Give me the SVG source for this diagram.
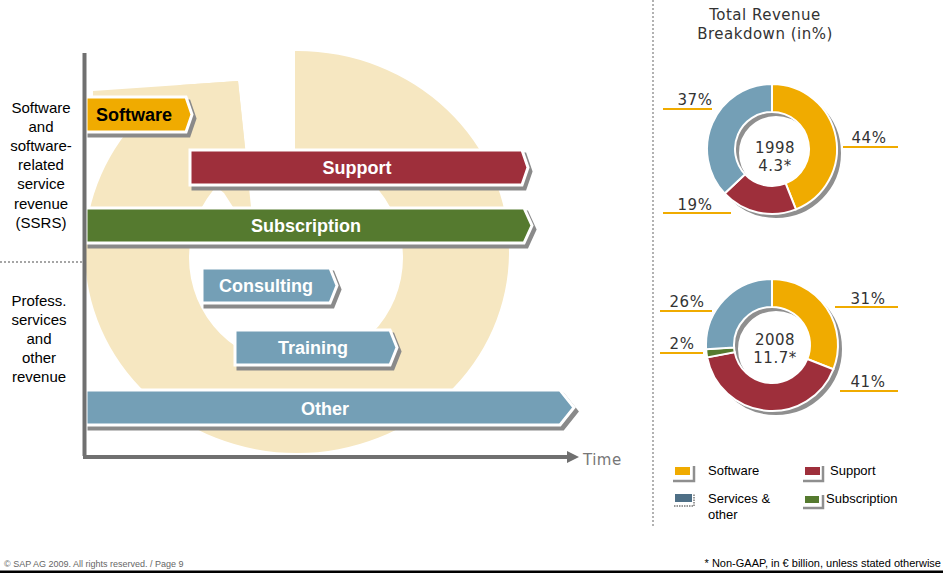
<svg xmlns="http://www.w3.org/2000/svg" width="943" height="573" viewBox="0 0 943 573">
<defs>
<style>
.lbl{font-family:"Liberation Sans",Arial,sans-serif;font-size:15px;fill:#000;text-anchor:middle}
.bar{font-family:"Liberation Sans",Arial,sans-serif;font-size:18px;font-weight:bold;fill:#fff;text-anchor:middle}
.geo{font-family:"DejaVu Sans","Liberation Sans",sans-serif;font-size:15px;fill:#333;text-anchor:middle;letter-spacing:0.5px}
.leg{font-family:"Liberation Sans",Arial,sans-serif;font-size:13px;fill:#000}
.shadow{fill:#8a8a8a;stroke:#8a8a8a;stroke-width:3;stroke-linejoin:miter}
.body{stroke:#fff;stroke-width:3;stroke-linejoin:miter}
.yl{fill:#F0AB00}.rd{fill:#9E2F3B}.gr{fill:#557A2F}.bl{fill:#749FB6}
.pline{stroke:#F0AB00;stroke-width:2}
.seg{stroke:#fff;stroke-width:2;stroke-linejoin:miter}
.lsh{fill:none;stroke:#8f8f8f;stroke-width:2.5}
</style>
</defs>
<rect width="943" height="573" fill="#fff"/>

<!-- background ring -->
<g id="background">
<path d="M85 252 A212 201 0 1 0 509 252 A212 201 0 1 0 85 252 Z M189 258 A107 107 0 1 1 403 258 A107 107 0 1 1 189 258 Z" fill="#F6E7C1" fill-rule="evenodd"/>
<polygon points="150,30 295,30 295,152 252,212 238,81 93,91" fill="#fff"/>
<polygon points="93,91 238,81 251,207 233,207 224,193 150,132 93,132" fill="#F6E7C1"/>
</g>

<!-- left labels -->
<g id="label-ssrs">
<text class="lbl" x="41" y="113">Software</text>
<text class="lbl" x="41" y="132">and</text>
<text class="lbl" x="41" y="151">software-</text>
<text class="lbl" x="41" y="170">related</text>
<text class="lbl" x="41" y="189">service</text>
<text class="lbl" x="41" y="209">revenue</text>
<text class="lbl" x="41" y="228">(SSRS)</text>
</g>
<line x1="0" y1="262" x2="82" y2="262" stroke="#888" stroke-width="1.5" stroke-dasharray="2,2"/>
<g id="label-prof">
<text class="lbl" x="39" y="306">Profess.</text>
<text class="lbl" x="39" y="325">services</text>
<text class="lbl" x="39" y="344">and</text>
<text class="lbl" x="39" y="363">other</text>
<text class="lbl" x="39" y="382">revenue</text>
</g>

<!-- bars -->
<g id="bar-software">
<polygon class="shadow" transform="translate(3,4)" points="86,97 186,97 192,114.5 186,132 86,132"/>
<polygon class="body yl" points="86,97 186,97 192,114.5 186,132 86,132"/>
<text class="bar" x="134" y="120.5" style="fill:#000">Software</text>
</g>
<g id="bar-support">
<polygon class="shadow" transform="translate(3,4)" points="190,150 522,150 528,167.5 522,185 190,185"/>
<polygon class="body rd" points="190,150 522,150 528,167.5 522,185 190,185"/>
<text class="bar" x="357" y="173.5">Support</text>
</g>
<g id="bar-subscription">
<polygon class="shadow" transform="translate(3,4)" points="86,208 524,208 532,225.5 524,243 86,243"/>
<polygon class="body gr" points="86,208 524,208 532,225.5 524,243 86,243"/>
<text class="bar" x="306" y="231.5">Subscription</text>
</g>
<g id="bar-consulting">
<polygon class="shadow" transform="translate(3,4)" points="202,268 330,268 337,285.5 330,303 202,303"/>
<polygon class="body bl" points="202,268 330,268 337,285.5 330,303 202,303"/>
<text class="bar" x="266" y="291.5">Consulting</text>
</g>
<g id="bar-training">
<polygon class="shadow" transform="translate(3,4)" points="235,330 390,330 397,347.5 390,365 235,365"/>
<polygon class="body bl" points="235,330 390,330 397,347.5 390,365 235,365"/>
<text class="bar" x="313" y="353.5">Training</text>
</g>
<g id="bar-other">
<polygon class="shadow" transform="translate(3,4)" points="86,390 560,390 574,407.5 560,425 86,425"/>
<polygon class="body bl" points="86,390 560,390 574,407.5 560,425 86,425"/>
<text class="bar" x="325" y="414.5">Other</text>
</g>

<!-- axes -->
<g id="connectors">
<line x1="84.5" y1="53" x2="84.5" y2="456" stroke="#707070" stroke-width="4"/>
<line x1="83" y1="457" x2="569" y2="457" stroke="#707070" stroke-width="4"/>
<polygon points="567,451 579,457 567,463" fill="#707070"/>
</g>
<text x="583" y="465" font-family="DejaVu Sans, sans-serif" font-size="15" fill="#777" letter-spacing="0.5">Time</text>

<!-- right panel -->
<line x1="653" y1="0" x2="653" y2="528" stroke="#999" stroke-width="1.5" stroke-dasharray="2,2"/>
<g id="title">
<text class="geo" x="765" y="20">Total Revenue</text>
<text class="geo" x="765" y="39">Breakdown (in%)</text>
</g>

<g id="donut-1998">
<circle cx="776" cy="153" r="51" fill="none" stroke="#8f8f8f" stroke-width="28"/>
<path class="seg yl" d="M772 84 A65 65 0 0 1 795.93 209.44 L785.62 183.4 A37 37 0 0 0 772 112 Z"/>
<path class="seg rd" d="M795.93 209.44 A65 65 0 0 1 724.61 193.49 L745.03 174.33 A37 37 0 0 0 785.62 183.4 Z"/>
<path class="seg bl" d="M724.61 193.49 A65 65 0 0 1 772 84 L772 112 A37 37 0 0 0 745.03 174.33 Z"/>
<text class="geo" x="775" y="153">1998</text>
<text class="geo" x="775" y="171">4.3*</text>
<line class="pline" x1="663" y1="109" x2="712" y2="109"/>
<text class="geo" x="695" y="105">37%</text>
<line class="pline" x1="843" y1="147" x2="898" y2="147"/>
<text class="geo" x="869" y="143">44%</text>
<line class="pline" x1="663" y1="213" x2="731" y2="213"/>
<text class="geo" x="695" y="210">19%</text>
</g>

<g id="donut-2008">
<circle cx="776" cy="349" r="52" fill="none" stroke="#8f8f8f" stroke-width="28"/>
<path class="seg yl" d="M772 279 A66 66 0 0 1 833.37 369.29 L807.33 358.99 A38 38 0 0 0 772 307 Z"/>
<path class="seg rd" d="M833.37 369.29 A66 66 0 0 1 707.17 357.37 L734.67 352.12 A38 38 0 0 0 807.33 358.99 Z"/>
<path class="seg gr" d="M707.17 357.37 A66 66 0 0 1 706.13 349.14 L734.08 347.39 A38 38 0 0 0 734.67 352.12 Z"/>
<path class="seg bl" d="M706.13 349.14 A66 66 0 0 1 772 279 L772 307 A38 38 0 0 0 734.08 347.39 Z"/>
<text class="geo" x="775" y="345">2008</text>
<text class="geo" x="775" y="363">11.7*</text>
<line class="pline" x1="660" y1="311" x2="712" y2="311"/>
<text class="geo" x="687" y="307">26%</text>
<line class="pline" x1="660" y1="353" x2="703" y2="353"/>
<text class="geo" x="682" y="349">2%</text>
<line class="pline" x1="835" y1="307" x2="898" y2="307"/>
<text class="geo" x="868" y="304">31%</text>
<line class="pline" x1="840" y1="391" x2="898" y2="391"/>
<text class="geo" x="868" y="387">41%</text>
</g>

<!-- legend -->
<g id="legend-software">
<rect x="675" y="467" width="15" height="8" class="yl"/>
<polyline class="lsh" points="673,481 694,481 694,466"/>
<text class="leg" x="708" y="475">Software</text>
</g>
<g id="legend-support">
<rect x="805" y="467" width="15" height="8" class="rd"/>
<polyline class="lsh" points="803,481 823,481 823,466"/>
<text class="leg" x="830" y="475">Support</text>
</g>
<g id="legend-services">
<rect x="675" y="494" width="17" height="8" fill="#4E6F86"/>
<polyline points="674,506 694,506 694,494" fill="none" stroke="#999" stroke-width="2" stroke-dasharray="1.5,1"/>
<text class="leg" x="708" y="503">Services &amp;</text>
<text class="leg" x="708" y="519">other</text>
</g>
<g id="legend-subscription">
<rect x="805" y="496" width="14" height="7" class="gr"/>
<polyline class="lsh" points="803,508 823,508 823,495"/>
<text class="leg" x="826" y="503">Subscription</text>
</g>

<!-- footer -->
<text x="4" y="567" font-family="Liberation Sans, Arial, sans-serif" font-size="9" fill="#666">© SAP AG 2009. All rights reserved. / Page 9</text>
<text x="941" y="567" font-family="Liberation Sans, Arial, sans-serif" font-size="11" fill="#000" text-anchor="end">* Non-GAAP, in € billion, unless stated otherwise</text>
<rect x="0" y="570.5" width="943" height="2.5" fill="#000"/>
</svg>
